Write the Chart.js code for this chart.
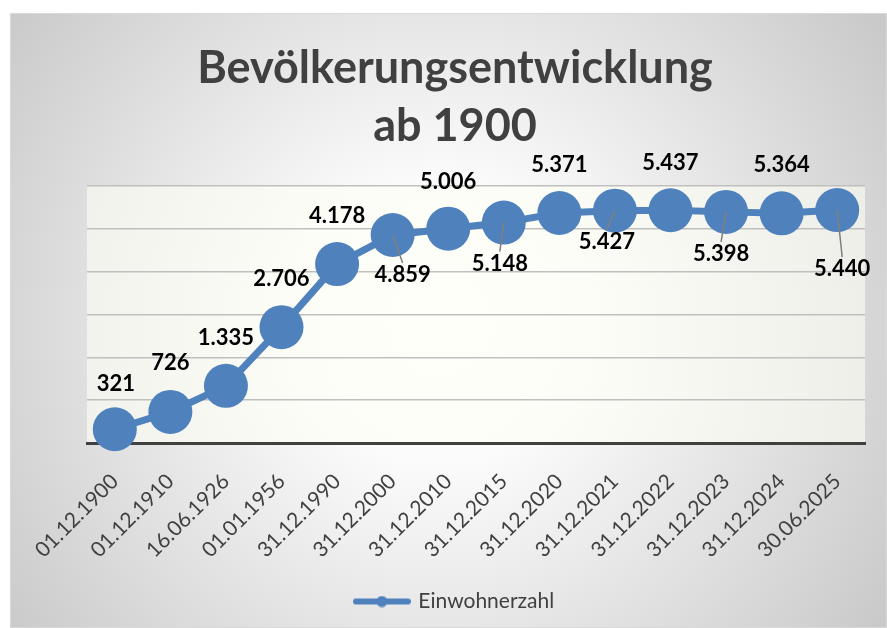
<!DOCTYPE html>
<html>
<head>
<meta charset="utf-8">
<script src="https://cdn.jsdelivr.net/npm/chart.js@4.4.0/dist/chart.umd.min.js"></script>
<style>
  body { margin: 0; background: #fff; }
  #wrap { position: absolute; left: 10px; top: 13px; width: 877px; height: 615px; }
</style>
</head>
<body>
<div id="wrap"><canvas id="grafico"></canvas></div>
<script>
const stichtage = ['01.12.1900', '01.12.1910', '16.06.1926', '01.01.1956', '31.12.1990', '31.12.2000', '31.12.2010',
  '31.12.2015', '31.12.2020', '31.12.2021', '31.12.2022', '31.12.2023', '31.12.2024', '30.06.2025'];
const einwohner = [321, 726, 1335, 2706, 4178, 4859, 5006, 5148, 5371, 5427, 5437, 5398, 5364, 5440];
const achseMin = 0;
const achseMax = 6000;
const achseSchritt = 1000;

// where the value labels sit relative to their point (dx, dy in px)
const labelVersatz = [[1, -45], [0, -49], [0, -48], [0, -48], [0, -48], [10, 40], [0, -47],
  [-4, 41], [0, -48], [-8, 31], [0, -47], [-5, 42], [0, -48], [5, 59]];

const blau = '#4f81bd';
const textFarbe = '#404040';

function formatZahl(v) {
  return v.toLocaleString('de-DE');
}

// legend symbol: line with a dot
function legendenSymbol() {
  const c = document.createElement('canvas');
  c.width = 58; c.height = 12;
  const ctx = c.getContext('2d');
  ctx.strokeStyle = blau;
  ctx.lineWidth = 6;
  ctx.lineCap = 'round';
  ctx.beginPath(); ctx.moveTo(3, 6); ctx.lineTo(55, 6); ctx.stroke();
  ctx.fillStyle = blau;
  ctx.beginPath(); ctx.arc(29, 6, 5.5, 0, Math.PI * 2); ctx.fill();
  return c;
}

const hintergrund = {
  id: 'hintergrund',
  beforeDraw(chart) {
    const { ctx, width, height, chartArea } = chart;
    ctx.save();
    const g = ctx.createRadialGradient(430, 310, 0, 430, 310, 560);
    g.addColorStop(0, '#ffffff');
    g.addColorStop(0.25, '#fbfbfb');
    g.addColorStop(1, '#c6c6c6');
    ctx.fillStyle = g;
    ctx.fillRect(0, 0, width, height);
    ctx.strokeStyle = '#d9d9d9';
    ctx.lineWidth = 1;
    ctx.strokeRect(0.5, 0.5, width - 1, height - 1);
    ctx.fillStyle = 'rgba(255,255,246,0.6)';
    ctx.fillRect(chartArea.left, chartArea.top, chartArea.right - chartArea.left, chartArea.bottom - chartArea.top);
    ctx.restore();
  }
};

const wertLabels = {
  id: 'wertLabels',
  afterDatasetsDraw(chart) {
    const { ctx } = chart;
    const meta = chart.getDatasetMeta(0);
    ctx.save();
    meta.data.forEach((pt, i) => {
      const [dx, dy] = labelVersatz[i];
      const lx = pt.x + dx, ly = pt.y + dy;
      if (dy > 0 && (Math.abs(dx) > 2 || dy > 35)) {
        ctx.strokeStyle = '#7f7f7f';
        ctx.lineWidth = 1.5;
        ctx.beginPath();
        ctx.moveTo(pt.x, pt.y);
        ctx.lineTo(lx, ly - 12);
        ctx.stroke();
      }
      ctx.fillStyle = '#000';
      ctx.font = 'bold 22px Lato';
      ctx.textAlign = 'center';
      ctx.textBaseline = 'middle';
      ctx.fillText(formatZahl(einwohner[i]), lx, ly);
    });
    ctx.restore();
  }
};

const grafico = new Chart(document.getElementById('grafico'), {
  type: 'line',
  data: {
    labels: stichtage,
    datasets: [{
      label: 'Einwohnerzahl',
      data: einwohner,
      borderColor: blau,
      backgroundColor: blau,
      borderWidth: 7,
      pointRadius: 22,
      pointHoverRadius: 22,
      pointBorderWidth: 0,
      pointBackgroundColor: blau,
      pointStyle: 'circle',
      tension: 0,
      clip: false
    }]
  },
  options: {
    responsive: true,
    maintainAspectRatio: false,
    animation: false,
    layout: { padding: { left: 30, right: 17, top: 0, bottom: 6 } },
    plugins: {
      title: {
        display: true,
        text: ['Bevölkerungsentwicklung', 'ab 1900'],
        color: textFarbe,
        font: { family: 'Lato', size: 45, weight: 'bold', lineHeight: 1.29 },
        padding: { top: 26, bottom: 31 }
      },
      legend: {
        position: 'bottom',
        labels: {
          usePointStyle: true,
          pointStyle: legendenSymbol(),
          pointStyleWidth: 52,
          color: textFarbe,
          font: { family: 'Lato', size: 21 },
          padding: 14
        }
      },
      tooltip: { enabled: false }
    },
    scales: {
      x: {
        offset: true,
        grid: { display: false, drawTicks: false },
        border: { display: true, color: textFarbe, width: 3 },
        ticks: {
          color: textFarbe,
          font: { family: 'Lato', size: 21 },
          minRotation: 45,
          maxRotation: 45,
          padding: 26
        },
        afterFit(scale) { scale.height = 134; }
      },
      y: {
        min: achseMin,
        max: achseMax,
        ticks: { display: false, stepSize: achseSchritt },
        grid: { color: '#bfbfbf', lineWidth: 1.5, drawTicks: false },
        border: { display: false },
        afterFit(scale) { scale.width = 47; }
      }
    }
  },
  plugins: [hintergrund, wertLabels]
});
</script>
</body>
</html>
